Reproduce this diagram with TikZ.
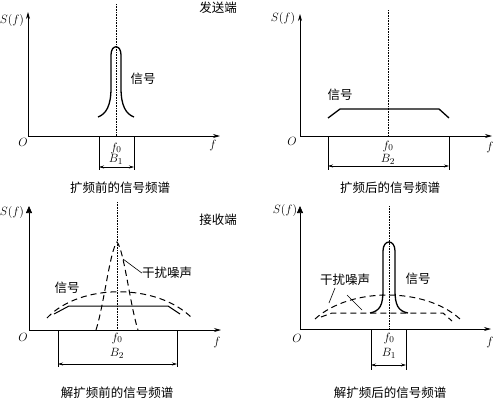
\documentclass[tikz,border=0pt]{standalone}
\usepackage{fontspec}
\usetikzlibrary{arrows.meta}
\newfontfamily\cjk{Noto Sans CJK SC}
\begin{document}
\begin{tikzpicture}[x=1pt,y=-1pt,font=\fontsize{13}{15}\selectfont,
 ax/.style={line width=0.7pt,-{Stealth[length=7pt,width=4pt]}},
 axb/.style={line width=0.7pt,-{Triangle[length=7pt,width=6pt]}},
 sig/.style={line width=1.3pt},
 nz/.style={line width=1pt,dash pattern=on 6pt off 4pt},
 ctr/.style={densely dotted,line width=0.6pt},
 bw/.style={line width=0.6pt},
 bwa/.style={line width=0.6pt,{Stealth[length=5pt,width=3pt]}-{Stealth[length=5pt,width=3pt]}},
 lbl/.style={inner sep=0pt},
 zh/.style={inner sep=0pt,font=\cjk\fontsize{12.5}{14}\selectfont}]
\useasboundingbox (0,0) rectangle (494,400);

% --- spectrum before spreading
\coordinate (o1) at (28,136);
\coordinate (y1) at (28,12);
\coordinate (x1) at (220,136);
\coordinate (c1t) at (116,4);
\coordinate (c1b) at (116,136);
\draw[ax] (o1) -- (y1);
\draw[ax] (o1) -- (x1);
\draw[ctr] (c1t) -- (c1b);
\draw[sig] (98,117) .. controls (106,114) and (111,106) .. (111,88) -- (111,55)
  .. controls (111,44) and (121,44) .. (121,55) -- (121,88)
  .. controls (121,106) and (126,114) .. (134,117);
\node[lbl] (s1) at (12,20) {$S(f)$};
\node[zh] (t1) at (218,8) {发送端};
\node[zh] (g1) at (143,79) {信号};
\node[lbl] (O1) at (23,142) {$O$};
\node[lbl] (f1) at (213,145) {$f$};
\node[lbl] (fz1) at (116,148) {$f_0$};
\coordinate (b1l) at (99,136);
\coordinate (b1r) at (134,136);
\coordinate (b1ld) at (99,170);
\coordinate (b1rd) at (134,170);
\draw[bw] (b1l) -- (b1ld);
\draw[bw] (b1r) -- (b1rd);
\draw[bwa] (99,167) -- (134,167);
\node[lbl] (bb1) at (116,159) {$B_1$};
\node[zh] (cap1) at (120,188) {扩频前的信号频谱};

% --- spectrum after spreading
\coordinate (o2) at (300,136);
\coordinate (y2) at (300,14);
\coordinate (x2) at (492,136);
\coordinate (c2t) at (388,10);
\coordinate (c2b) at (388,136);
\draw[ax] (o2) -- (y2);
\draw[ax] (o2) -- (x2);
\draw[ctr] (c2t) -- (c2b);
\draw[sig] (328,118) -- (340,109) -- (439,109) -- (449,118);
\node[lbl] (s2) at (283,18) {$S(f)$};
\node[zh] (g2) at (340,95) {信号};
\node[lbl] (O2) at (292,141) {$O$};
\node[lbl] (f2) at (490,147) {$f$};
\node[lbl] (fz2) at (388,146) {$f_0$};
\coordinate (b2l) at (328,136);
\coordinate (b2r) at (449,136);
\coordinate (b2ld) at (328,170);
\coordinate (b2rd) at (449,170);
\draw[bw] (b2l) -- (b2ld);
\draw[bw] (b2r) -- (b2rd);
\draw[bwa] (328,166) -- (449,166);
\node[lbl] (bb2) at (388,159) {$B_2$};
\node[zh] (cap2) at (390,188) {扩频后的信号频谱};

% --- receiver, before despreading
\coordinate (o3) at (29,330);
\coordinate (y3) at (29,206);
\coordinate (x3) at (221,330);
\coordinate (c3t) at (117,202);
\coordinate (c3b) at (117,330);
\draw[axb] (o3) -- (y3);
\draw[ax] (o3) -- (x3);
\draw[ctr] (c3t) -- (c3b);
\draw[nz] (96,330) .. controls (104,305) and (110,250) .. (117,242)
  .. controls (124,250) and (130,305) .. (138,330);
\draw[nz] (47,318) .. controls (80,283) and (157,283) .. (192,318);
\draw[sig,line width=1pt] (54,314) -- (69,306) -- (168,306) -- (180,314);
\node[lbl] (s3) at (12,212) {$S(f)$};
\node[zh] (t3) at (218,220) {接收端};
\node[zh] (g3) at (67,288) {信号};
\node[zh] (n3) at (167,273) {干扰噪声};
\coordinate (n3p) at (123,259);
\draw[bw] (n3.west) -- (n3p);
\node[lbl] (O3) at (23,337) {$O$};
\node[lbl] (f3) at (217,342) {$f$};
\node[lbl] (fz3) at (117,338) {$f_0$};
\coordinate (b3l) at (58,330);
\coordinate (b3r) at (177,330);
\coordinate (b3ld) at (58,367);
\coordinate (b3rd) at (177,367);
\draw[bw] (b3l) -- (b3ld);
\draw[bw] (b3r) -- (b3rd);
\draw[bwa] (58,364) -- (177,364);
\node[lbl] (bb3) at (117,353) {$B_2$};
\node[zh] (cap3) at (117,393) {解扩频前的信号频谱};

% --- receiver, after despreading
\coordinate (o4) at (300,329);
\coordinate (y4) at (300,206);
\coordinate (x4) at (491,329);
\coordinate (c4t) at (389,206);
\coordinate (c4b) at (389,329);
\draw[axb] (o4) -- (y4);
\draw[ax] (o4) -- (x4);
\draw[ctr] (c4t) -- (c4b);
\draw[nz] (315,319) .. controls (350,287) and (425,287) .. (460,319);
\draw[nz] (321,317) -- (332,313) -- (443,313) -- (452,321);
\draw[sig] (370,313) .. controls (380,311) and (383,305) .. (383,290) -- (383,251)
  .. controls (383,239) and (395,239) .. (395,251) -- (395,290)
  .. controls (395,305) and (398,311) .. (408,313);
\node[lbl] (s4) at (285,210) {$S(f)$};
\node[zh] (n4) at (345,280) {干扰噪声};
\node[zh] (g4) at (418,279) {信号};
\coordinate (n4a) at (329,303);
\coordinate (n4b) at (362,310);
\draw[bw] (335,288) -- (n4a);
\draw[bw] (347,295) -- (n4b);
\node[lbl] (O4) at (297,338) {$O$};
\node[lbl] (f4) at (490,342) {$f$};
\node[lbl] (fz4) at (389,338) {$f_0$};
\coordinate (b4l) at (371,329);
\coordinate (b4r) at (406,329);
\coordinate (b4ld) at (371,370);
\coordinate (b4rd) at (406,370);
\draw[bw] (b4l) -- (b4ld);
\draw[bw] (b4r) -- (b4rd);
\draw[bwa] (371,365) -- (406,365);
\node[lbl] (bb4) at (389,353) {$B_1$};
\node[zh] (cap4) at (390,393) {解扩频后的信号频谱};
\end{tikzpicture}
\end{document}
